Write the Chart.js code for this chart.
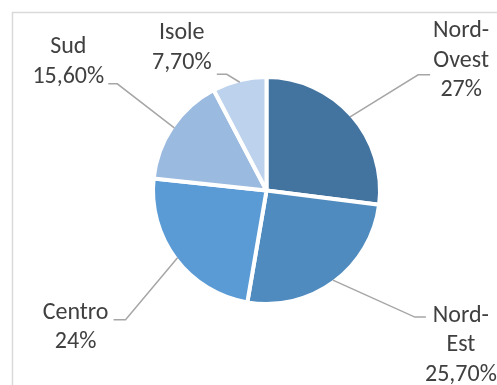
<!DOCTYPE html>
<html>
<head>
<meta charset="utf-8">
<script src="https://cdn.jsdelivr.net/npm/chart.js@4.4.1/dist/chart.umd.min.js"></script>
<style>
  html, body { margin: 0; padding: 0; background: #ffffff; }
  #wrap { width: 497px; height: 385px; position: relative; }
</style>
</head>
<body>
<div id="wrap"><canvas id="c" width="497" height="385"></canvas></div>
<script>
// Distribuzione per ripartizione geografica (%)
const regions = ['Nord-Ovest', 'Nord-Est', 'Centro', 'Sud', 'Isole'];
const shares = [27, 25.7, 24, 15.6, 7.7];
const sliceColors = ['#43739f', '#4f8bbf', '#5b9bd5', '#9bbae0', '#bdd2ec'];

// Label placement: text centre and leader elbow/end, as offsets from the slice's outer mid-point
const labelLayout = [
  { text: [111, -56], elbow: [68, -42], end: [80, -42] },
  { text: [128, 65],  elbow: [82, 37],  end: [93, 37] },
  { text: [-102, 70], elbow: [-52, 62], end: [-64, 62] },
  { text: [-106, -66], elbow: [-57, -44], end: [-66, -44] },
  { text: [-58, -34], elbow: [-13, -8], end: [-23, -8] }
];

const FONT = '24px "Carlito", "Calibri", "Liberation Sans Narrow", "Liberation Sans", sans-serif';
const LINE_H = 29.5;

function formatShare(v) {
  const s = Number.isInteger(v) ? String(v) : v.toFixed(2).replace('.', ',');
  return s + '%';
}
function nameLines(name) {
  const i = name.indexOf('-');
  return i >= 0 ? [name.slice(0, i + 1), name.slice(i + 1)] : [name];
}

const framePlugin = {
  id: 'frame',
  beforeDraw(chart) {
    const ctx = chart.ctx;
    ctx.save();
    ctx.strokeStyle = '#d9d9d9';
    ctx.lineWidth = 1.5;
    ctx.strokeRect(12.5, 12.5, chart.width, chart.height);
    ctx.restore();
  }
};

const labelPlugin = {
  id: 'pieLabels',
  afterDatasetsDraw(chart) {
    const ctx = chart.ctx;
    const meta = chart.getDatasetMeta(0);
    const bw = chart.data.datasets[0].borderWidth;
    ctx.save();
    meta.data.forEach((arc, i) => {
      const p = arc.getProps(['x', 'y', 'startAngle', 'endAngle', 'outerRadius'], true);
      const mid = (p.startAngle + p.endAngle) / 2;
      const r = p.outerRadius - bw / 2;
      const ax = p.x + r * Math.cos(mid);
      const ay = p.y + r * Math.sin(mid);
      const L = labelLayout[i];
      // leader line
      ctx.strokeStyle = '#a6a6a6';
      ctx.lineWidth = 1.5;
      ctx.beginPath();
      ctx.moveTo(ax, ay);
      ctx.lineTo(ax + L.elbow[0], ay + L.elbow[1]);
      ctx.lineTo(ax + L.end[0], ay + L.end[1]);
      ctx.stroke();
      // label text
      const lines = nameLines(chart.data.labels[i]).concat([formatShare(shares[i])]);
      const cx = ax + L.text[0];
      const cy = ay + L.text[1];
      ctx.fillStyle = '#404040';
      ctx.font = FONT;
      ctx.textAlign = 'center';
      ctx.textBaseline = 'middle';
      const top = cy - (lines.length - 1) * LINE_H / 2;
      lines.forEach((t, k) => ctx.fillText(t, cx, top + k * LINE_H));
    });
    ctx.restore();
  }
};

new Chart(document.getElementById('c'), {
  type: 'pie',
  data: {
    labels: regions,
    datasets: [{
      data: shares,
      backgroundColor: sliceColors,
      borderColor: '#ffffff',
      borderWidth: 4,
      radius: 113.5
    }]
  },
  options: {
    responsive: false,
    animation: false,
    layout: { padding: { left: 140, right: 104, top: 70, bottom: 74 } },
    plugins: {
      legend: { display: false },
      tooltip: { enabled: false }
    }
  },
  plugins: [framePlugin, labelPlugin]
});
</script>
</body>
</html>
